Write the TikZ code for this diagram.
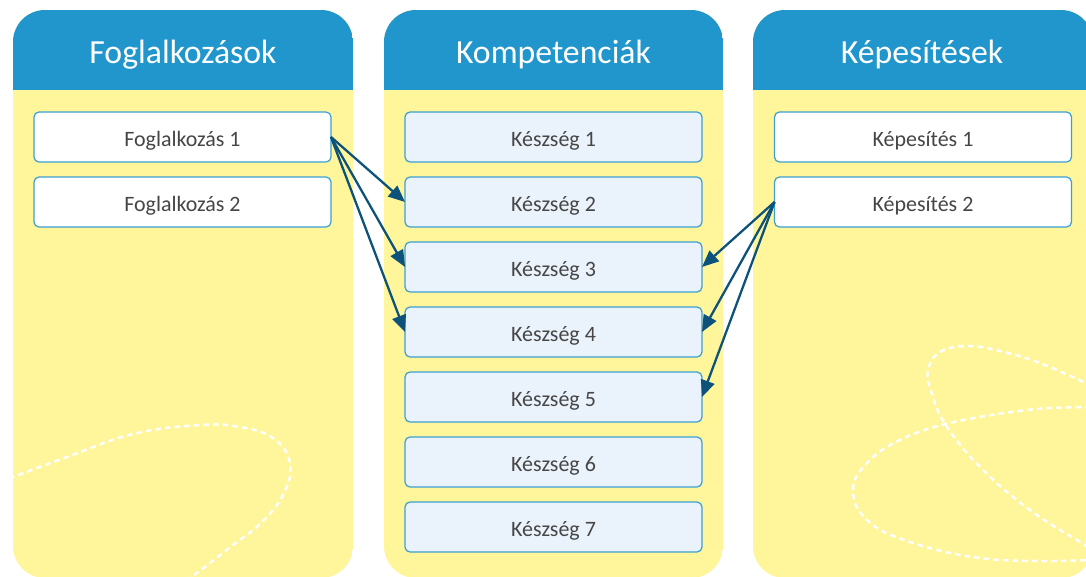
\documentclass[tikz,border=0pt]{standalone}
\usepackage{fontspec}
\setmainfont{Carlito}
\usepackage{xcolor}
\usepackage{tikz}
\usetikzlibrary{positioning,arrows.meta}

\definecolor{headblue}{RGB}{33,150,204}
\definecolor{panelyellow}{RGB}{255,245,155}
\definecolor{boxline}{RGB}{60,160,210}
\definecolor{skillfill}{RGB}{234,242,251}
\definecolor{linkblue}{RGB}{12,82,122}
\definecolor{boxtext}{RGB}{70,70,70}

\begin{document}
\begin{tikzpicture}[x=0.02cm, y=-0.02cm,
    headtitle/.style={text=white, font=\fontsize{19.2}{23}\selectfont, text height=13pt, text depth=0pt},
    itembox/.style={draw=boxline, line width=0.7pt, fill=white, rounded corners=2.8pt,
        minimum width=5.94cm, minimum height=1cm, inner sep=0pt, outer sep=0pt,
        text=boxtext, font=\fontsize{12.5}{14}\selectfont, text height=10.4pt, text depth=0pt},
    skillbox/.style={itembox, fill=skillfill},
    link/.style={draw=linkblue, line width=1.3pt, -{Triangle[length=9.5pt,width=8pt]}},
    swirl/.style={white, line width=1.4pt, dash pattern=on 3.2pt off 2.3pt}]

    \useasboundingbox (0,0) rectangle (1086,576);

    % Occupations panel
    \begin{scope}
        \clip[rounded corners=0.64cm] (13,10) rectangle (353,578);
        \fill[panelyellow] (13,10) rectangle (353,578);
        \fill[headblue] (13,10) rectangle (353,90);
        \draw[swirl] plot[smooth, tension=0.7] coordinates {(0,482) (13,477) (67,457) (133,434) (200,425) (240,427) (273,438) (290,463) (284,493) (262,522) (233,545) (193,576) (170,592)};
    \end{scope}
    \node[headtitle] (occhead) at (183,52) {Foglalkozások};

    % Skills panel
    \begin{scope}
        \clip[rounded corners=0.64cm] (384,10) rectangle (723,578);
        \fill[panelyellow] (384,10) rectangle (723,578);
        \fill[headblue] (384,10) rectangle (723,90);
    \end{scope}
    \node[headtitle] (skillhead) at (553.5,52) {Kompetenciák};

    % Qualifications panel
    \begin{scope}
        \clip[rounded corners=0.64cm] (753,10) rectangle (1093,578);
        \fill[panelyellow] (753,10) rectangle (1093,578);
        \fill[headblue] (753,10) rectangle (1093,90);
        \draw[swirl] plot[smooth, tension=0.7] coordinates {(1110,393) (1086,383) (1040,363) (1000,351) (968,346) (940,352) (928,371) (932,394) (947,427) (983,470) (1030,510) (1080,542) (1110,560)};
        \draw[swirl] plot[smooth, tension=0.7] coordinates {(1110,406) (1086,407) (1027,410) (950,423) (900,440) (867,463) (853,490) (867,520) (907,541) (973,557) (1040,561) (1110,559)};
    \end{scope}
    \node[headtitle] (qualhead) at (922,52) {Képesítések};

    % Occupations
    \node[itembox] (occ1) at (182.5,137) {Foglalkozás 1};
    \node[itembox] (occ2) at (182.5,202) {Foglalkozás 2};

    % Skills
    \node[skillbox] (skill1) at (553.5,137) {Készség 1};
    \node[skillbox] (skill2) at (553.5,202) {Készség 2};
    \node[skillbox] (skill3) at (553.5,267) {Készség 3};
    \node[skillbox] (skill4) at (553.5,332) {Készség 4};
    \node[skillbox] (skill5) at (553.5,397) {Készség 5};
    \node[skillbox] (skill6) at (553.5,462) {Készség 6};
    \node[skillbox] (skill7) at (553.5,527) {Készség 7};

    % Qualifications
    \node[itembox] (qual1) at (923,137) {Képesítés 1};
    \node[itembox] (qual2) at (923,202) {Képesítés 2};

    % links
    \draw[link] (occ1.east) -- (skill2.west);
    \draw[link] (occ1.east) -- (skill3.west);
    \draw[link] (occ1.east) -- (skill4.west);
    \draw[link] (qual2.west) -- (skill3.east);
    \draw[link] (qual2.west) -- (skill4.east);
    \draw[link] (qual2.west) -- (skill5.east);
\end{tikzpicture}
\end{document}
